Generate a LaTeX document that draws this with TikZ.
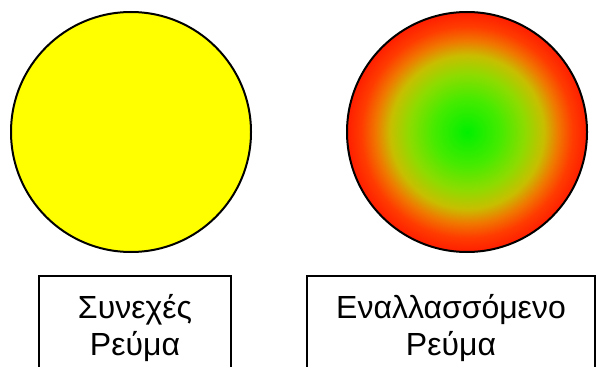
\documentclass[tikz,border=0pt]{standalone}
\usepackage{fontspec}
\setmainfont{Liberation Sans}
\definecolor{dcyellow}{RGB}{255,255,0}
\definecolor{acgreen}{RGB}{0,240,0}
\definecolor{acmidA}{RGB}{70,235,0}
\definecolor{acmidB}{RGB}{140,220,0}
\definecolor{acmidC}{RGB}{200,190,0}
\definecolor{acmidD}{RGB}{240,120,0}
\definecolor{acmidE}{RGB}{255,60,0}
\definecolor{acred}{RGB}{255,30,0}
\pgfdeclareradialshading{acglow}{\pgfpoint{0bp}{0bp}}{%
  color(0bp)=(acgreen); color(7bp)=(acmidA); color(12bp)=(acmidB);
  color(16bp)=(acmidC); color(19bp)=(acmidD); color(22bp)=(acmidE);
  color(25bp)=(acred); color(50bp)=(acred)}

\begin{document}
\begin{tikzpicture}[x=0.75pt, y=-0.75pt,
  current/.style={draw, circle, line width=1.5pt, minimum size=180pt, inner sep=0pt},
  caption/.style={draw, line width=1.2pt, align=center, anchor=north,
    minimum height=78pt, font=\fontsize{24}{27.6}\selectfont}]
  \useasboundingbox (0,0) rectangle (599,367);
  \node[current, fill=dcyellow] (dc) at (131,132) {};
  \node[current, shading=acglow] (ac) at (467,132) {};
  \node[caption, minimum width=144pt] (dclabel) at (135,275) {Συνεχές\\Ρεύμα};
  \node[caption, minimum width=216pt] (aclabel) at (451,275) {Εναλλασσόμενο\\Ρεύμα};
\end{tikzpicture}
\end{document}
